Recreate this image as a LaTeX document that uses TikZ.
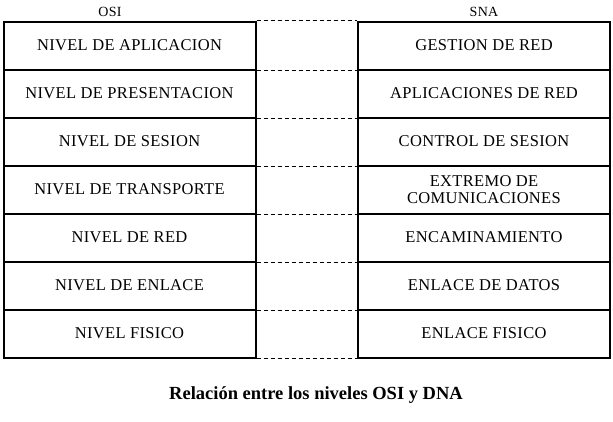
\documentclass[tikz,border=0pt]{standalone}
\usepackage{fontspec}
\setmainfont{Liberation Serif}
\newfontfamily\rowfont[LetterSpace=2]{Liberation Serif}
\usetikzlibrary{positioning}

\begin{document}
\begin{tikzpicture}[
    x=1pt, y=-1pt,
    every node/.style={font=\rowfont\fontsize{16.5}{17.5}\selectfont},
    layer/.style={
        draw, line width=2pt, minimum width=252pt, minimum height=48pt,
        inner sep=0pt, align=center
    },
    header/.style={font=\rowfont\fontsize{14}{16}\selectfont},
    match/.style={line width=0.9pt, dash pattern=on 4pt off 3pt},
]
\useasboundingbox (0,0) rectangle (613,421);

% =====================================================================
%  LEFT COLUMN:  OSI layers
% =====================================================================
\node[header] (osi) at (110, 12) {OSI};

\node[layer] (o1) at (129.5,  45.5) {NIVEL DE APLICACION};
\node[layer] (o2) at (129.5,  93.5) {NIVEL DE PRESENTACION};
\node[layer] (o3) at (129.5, 141.5) {NIVEL DE SESION};
\node[layer] (o4) at (129.5, 189.5) {NIVEL DE TRANSPORTE};
\node[layer] (o5) at (129.5, 237.5) {NIVEL DE RED};
\node[layer] (o6) at (129.5, 285.5) {NIVEL DE ENLACE};
\node[layer] (o7) at (129.5, 333.5) {NIVEL FISICO};

% =====================================================================
%  RIGHT COLUMN:  SNA layers
% =====================================================================
\node[header] (sna) at (484, 12) {SNA};

\node[layer] (s1) at (484,  45.5) {GESTION DE RED};
\node[layer] (s2) at (484,  93.5) {APLICACIONES DE RED};
\node[layer] (s3) at (484, 141.5) {CONTROL DE SESION};
\node[layer] (s4) at (484, 189.5) {EXTREMO DE\\COMUNICACIONES};
\node[layer] (s5) at (484, 237.5) {ENCAMINAMIENTO};
\node[layer] (s6) at (484, 285.5) {ENLACE DE DATOS};
\node[layer] (s7) at (484, 333.5) {ENLACE FISICO};

% Dashed links between layer borders
\draw[match] (o1.north east) -- (s1.north west);
\draw[match] (o1.south east) -- (s1.south west);
\draw[match] (o2.south east) -- (s2.south west);
\draw[match] (o3.south east) -- (s3.south west);
\draw[match] (o4.south east) -- (s4.south west);
\draw[match] (o5.south east) -- (s5.south west);
\draw[match] (o6.south east) -- (s6.south west);
\draw[match] (o7.south east) -- (s7.south west);

% Caption
\node[font=\fontsize{18.5}{21}\selectfont\bfseries] (caption) at (316, 395)
    {Relación entre los niveles OSI y DNA};

\end{tikzpicture}
\end{document}
